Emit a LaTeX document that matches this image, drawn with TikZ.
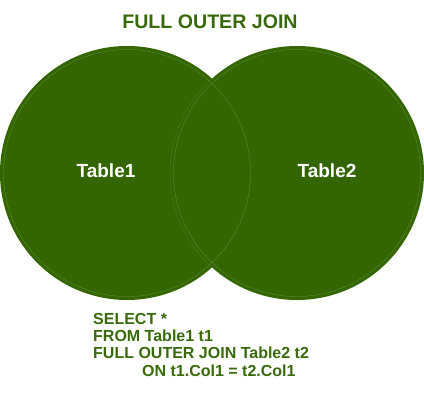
\documentclass[tikz,border=0pt]{standalone}
\usepackage{fontspec}
\setmainfont{Liberation Sans}
\definecolor{joingreen}{RGB}{51,102,0}
\definecolor{textgreen}{RGB}{56,106,12}
\definecolor{ringgreen}{RGB}{140,176,110}
\tikzset{
    set/.style={circle, fill=joingreen, minimum size=254pt, inner sep=0pt}
}
\tikzset{
    ring/.style={circle, draw=ringgreen, draw opacity=.55, line width=0.3pt,
    	minimum size=247pt, inner sep=0pt}
}
\tikzset{
    tablename/.style={text=white, font=\bfseries\fontsize{19}{22}\selectfont}
}

\begin{document}
\begin{tikzpicture}[x=1pt, y=-1pt]
	\useasboundingbox (0,0) rectangle (424,407);
	\node (title) [text=textgreen, font=\bfseries\fontsize{19.6}{22}\selectfont]
		at (210,22) {FULL OUTER JOIN};
	\node (t1) [set] at (127,173) {};
	\node (t2) [set] at (297,173) {};
	\node (r1) [ring] at (127,173) {};
	\node (r2) [ring] at (297,173) {};
	\node (e2) [ring, minimum size=254pt, draw opacity=.3] at (297,173) {};
	\node (n1) [tablename] at (106,171) {Table1};
	\node (n2) [tablename] at (327,171) {Table2};
	
	\node (sql) [anchor=north west, align=left, inner sep=0pt, text=textgreen,
		font=\bfseries\fontsize{16}{17.3}\selectfont] at (93,313)
		{SELECT *\\FROM Table1 t1\\FULL OUTER JOIN Table2 t2\\
		\hspace*{49pt}ON t1.Col1 = t2.Col1};
\end{tikzpicture}
\end{document}
